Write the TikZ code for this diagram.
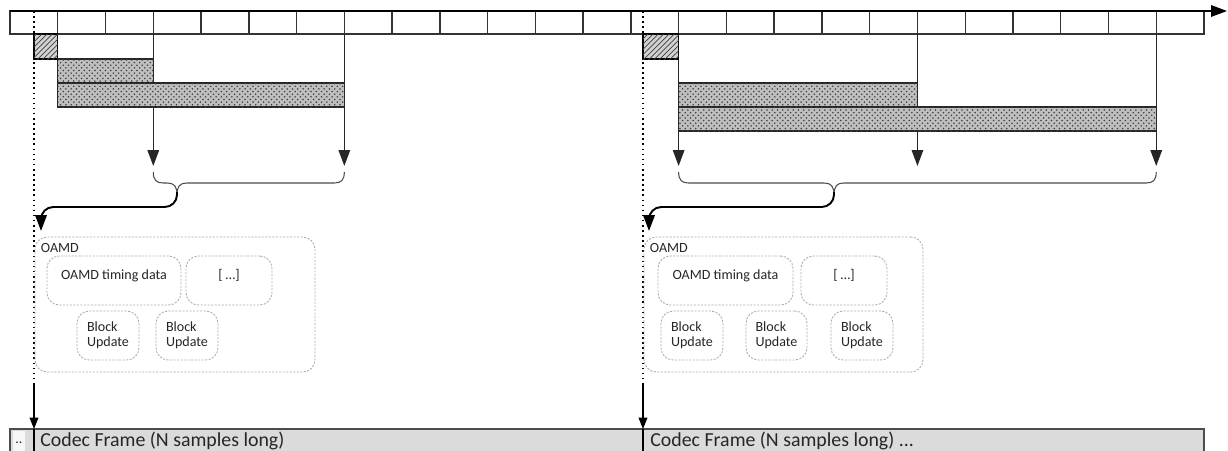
\documentclass[tikz,border=0pt]{standalone}
\usepackage{fontspec}
\setmainfont{Carlito}
\usetikzlibrary{arrows.meta,positioning,calc,patterns,fit}

\begin{document}
\begin{tikzpicture}[x=0.02cm, y=-0.02cm,
    cell/.style={draw=black!80, line width=0.8pt},
    hatch/.style={draw=black, line width=0.6pt, fill=gray!35, postaction={pattern=north east lines, pattern color=black!75}},
    xhatch/.style={draw=black!85, line width=0.6pt, fill=gray!50, postaction={pattern=crosshatch dots, pattern color=black!75}},
    tick/.style={draw=black!85, line width=0.8pt, -{Triangle[length=9pt,width=6.5pt]}},
    guide/.style={dotted, line width=0.9pt},
    brace/.style={draw=gray!60!black, line width=0.6pt},
    feed/.style={draw=black, line width=1.1pt, rounded corners=7pt, -{Triangle[length=9pt,width=6.5pt]}},
    group/.style={draw=gray!65, dash pattern=on 1.2pt off 0.8pt, line width=0.5pt, rounded corners=7pt, inner sep=0pt},
    field/.style={group, font=\fontsize{8}{8.6}\selectfont, text=black!85},
    words/.style={inner sep=0pt, align=left, font=\fontsize{8}{8.6}\selectfont, text=black!85}]
    \useasboundingbox (0,0) rectangle (1228,450);

    % Time axis with sample cells
    \foreach \i in {0,...,24}
        \draw[cell] ({10+\i*47.76},11) rectangle ++(47.76,23);
    \foreach \i in {0,...,25}
        \coordinate (c\i) at ({10+\i*47.76},34);
    \draw[line width=0.8pt, -{Triangle[length=9pt,width=6.5pt]}] (10,11) -- (1227,11);

    % Frame starts (dotted guides)
    \coordinate (gA) at (34,11);
    \coordinate (gB) at (643,11);
    \draw[guide] (gA) -- (34,384);
    \draw[guide] (gB) -- (643,384);

    % Ticks down to the braces
    \foreach \k in {3,7,14,19,24}
        \draw[tick] (c\k) -- ($(c\k)+(0,132)$);

    % First frame: blocks
    \draw[hatch] (34,34) rectangle (c1 |- 0,59);
    \draw[xhatch] (c1 |- 0,59) rectangle (c3 |- 0,83);
    \draw[xhatch] (c1 |- 0,83) rectangle (c7 |- 0,107);

    % Second frame: blocks
    \draw[hatch] (643,34) rectangle (c14 |- 0,59);
    \draw[xhatch] (c14 |- 0,83) rectangle (c19 |- 0,107);
    \draw[xhatch] (c14 |- 0,107) rectangle (c24 |- 0,131);

    % Braces
    \coordinate (tipA) at (177,195);
    \draw[brace] ($(c3)+(0,138)$) .. controls ($(c3)+(0,146)$) and ($(c3)+(3,149)$) .. ($(c3)+(10,149)$)
        -- (167,183) .. controls (174,183) and (177,186) .. (tipA);
    \draw[brace] ($(c7)+(0,138)$) .. controls ($(c7)+(0,146)$) and ($(c7)+(-3,149)$) .. ($(c7)+(-10,149)$)
        -- (187,183) .. controls (180,183) and (177,186) .. (tipA);
    \coordinate (tipB) at (834,195);
    \draw[brace] ($(c14)+(0,138)$) .. controls ($(c14)+(0,146)$) and ($(c14)+(3,149)$) .. ($(c14)+(10,149)$)
        -- (824,183) .. controls (831,183) and (834,186) .. (tipB);
    \draw[brace] ($(c24)+(0,138)$) .. controls ($(c24)+(0,146)$) and ($(c24)+(-3,149)$) .. ($(c24)+(-10,149)$)
        -- (844,183) .. controls (837,183) and (834,186) .. (tipB);

    % OAMD of first frame
    \node[group, fit={(35,237) (315,372)}] (oamdA) {};
    \node[words, anchor=north west] (oamdAtitle) at ($(oamdA.north west)+(6,6)$) {OAMD};
    \node[field, fit={(47,256) (181,305)}] (timA) {OAMD timing data};
    \node[field, fit={(186,256) (272,305)}] (restA) {[ …]};
    \node[group, fit={(77,311) (139,360)}] (blkA1) {};
    \node[group, fit={(156,311) (218,360)}] (blkA2) {};
    \node[words] (blkA1txt) at (blkA1) {Block\\Update};
    \node[words] (blkA2txt) at (blkA2) {Block\\Update};

    % OAMD of second frame
    \node[group, fit={(644,237) (923,372)}] (oamdB) {};
    \node[words, anchor=north west] (oamdBtitle) at ($(oamdB.north west)+(6,6)$) {OAMD};
    \node[field, fit={(658,256) (793,305)}] (timB) {OAMD timing data};
    \node[field, fit={(801,256) (887,305)}] (restB) {[ …]};
    \node[group, fit={(661,311) (723,360)}] (blkB1) {};
    \node[group, fit={(746,311) (807,360)}] (blkB2) {};
    \node[group, fit={(831,311) (893,360)}] (blkB3) {};
    \node[words] (blkB1txt) at (blkB1) {Block\\Update};
    \node[words] (blkB2txt) at (blkB2) {Block\\Update};
    \node[words] (blkB3txt) at (blkB3) {Block\\Update};

    % Braces feed the OAMD
    \draw[feed] ($(tipA)+(0,-3)$) -- (177,207) -- (41,207) -- (41,231);
    \draw[feed] ($(tipB)+(0,-3)$) -- (834,207) -- (649,207) -- (649,231);

    % Codec frames
    \draw[fill=gray!28, draw=black!70, line width=0.8pt] (10,429) rectangle (1204,470);
    \fill[gray!6] (13,431) rectangle (25,460);
    \draw[line width=0.8pt] (34,429) -- (34,470);
    \draw[line width=0.8pt] (643,429) -- (643,470);
    \node[words] (dots) at (19,443) {..};
    \node[anchor=west, inner sep=0pt, font=\fontsize{11.3}{13}\selectfont, text=black!85] (frameA) at (40,441) {Codec Frame (N samples long)};
    \node[anchor=west, inner sep=0pt, font=\fontsize{11.3}{13}\selectfont, text=black!85] (frameB) at (650,441) {Codec Frame (N samples long) ...};

    % Frame start arrows
    \draw[line width=0.6pt, -{Triangle[length=6.5pt,width=5pt]}] (34,384) -- (34,429);
    \draw[line width=0.6pt, -{Triangle[length=6.5pt,width=5pt]}] (643,384) -- (643,429);
\end{tikzpicture}
\end{document}
